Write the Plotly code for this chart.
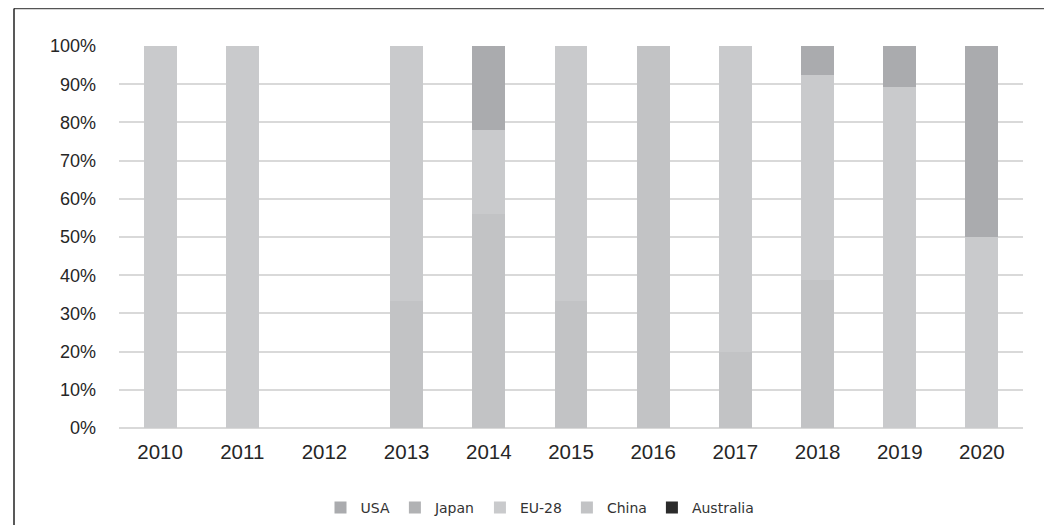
import plotly.graph_objects as go

years = ["2010", "2011", "2012", "2013", "2014", "2015", "2016", "2017", "2018", "2019", "2020"]
china = [0, 0, 0, 33.3, 56, 33.3, 100, 20, 38.7, 0, 0]
eu28 = [100, 100, 0, 66.7, 22, 66.7, 0, 80, 53.8, 89.2, 50.1]
usa = [0, 0, 0, 0, 22, 0, 0, 0, 7.5, 10.8, 49.9]
japan = [0, 0, 0, 0, 0, 0, 0, 0, 0, 0, 0]
australia = [0, 0, 0, 0, 0, 0, 0, 0, 0, 0, 0]
y_ticks = [0, 10, 20, 30, 40, 50, 60, 70, 80, 90, 100]
y_ticktext = [f"{v}%" for v in y_ticks]

fig = go.Figure()
series = [
    ("China", china, "#c2c3c5", 4),
    ("EU-28", eu28, "#c9cacc", 3),
    ("USA", usa, "#aaabae", 1),
    ("Japan", japan, "#b1b2b4", 2),
    ("Australia", australia, "#2b2b2b", 5),
]
for name, vals, col, rank in series:
    fig.add_trace(go.Bar(
        x=years, y=vals, name=name, legendrank=rank,
        marker=dict(color=col, line=dict(width=0)),
    ))

# page body has an 8px margin: work in figure coordinates = screen - 8
OFF = 8
W, H = 1052 - OFF, 525 - OFF
L = 119 - OFF
T = 46 - OFF
plot_right = 1023 - OFF
plot_bottom = 428 - OFF
R = W - plot_right
B = H - plot_bottom
pw, ph = W - L - R, H - T - B

def px_x(x):
    return (x - OFF - L) / pw

def px_y(y):
    return 1 - (y - OFF - T) / ph

fig.update_layout(
    width=W, height=H,
    margin=dict(l=L, r=R, t=T, b=B, autoexpand=False),
    barmode="stack", bargap=0.6,
    paper_bgcolor="white", plot_bgcolor="white",
    font=dict(family="Liberation Sans, Arial, sans-serif", color="#262626"),
    showlegend=True,
    legend=dict(
        orientation="h", traceorder="normal",
        xref="container", yref="container",
        x=(540 - OFF) / W, xanchor="center",
        y=1 - (508 - OFF) / H, yanchor="middle",
        font=dict(family="DejaVu Sans", size=14, color="#333333"),
        itemwidth=30, tracegroupgap=0,
    ),
    xaxis=dict(
        showgrid=False, showline=False, ticks="",
        tickfont=dict(size=20.5, color="#262626"),
        ticklabelstandoff=9,
    ),
    yaxis=dict(
        range=[0, 100], tickvals=y_ticks, ticktext=y_ticktext,
        showgrid=True, gridcolor="#d9d9d9", gridwidth=1.5,
        zeroline=True, zerolinecolor="#d9d9d9", zerolinewidth=1.5,
        showline=False, ticks="",
        tickfont=dict(size=18, color="#262626"),
        ticklabelstandoff=22,
    ),
    shapes=[
        dict(type="line", xref="paper", yref="paper",
             x0=px_x(14), x1=px_x(1060), y0=px_y(8.5), y1=px_y(8.5),
             line=dict(color="#555555", width=1.5)),
        dict(type="line", xref="paper", yref="paper",
             x0=px_x(14), x1=px_x(14), y0=px_y(8.5), y1=px_y(530),
             line=dict(color="#222222", width=1.5)),
    ],
)

fig.write_html("out.html")
